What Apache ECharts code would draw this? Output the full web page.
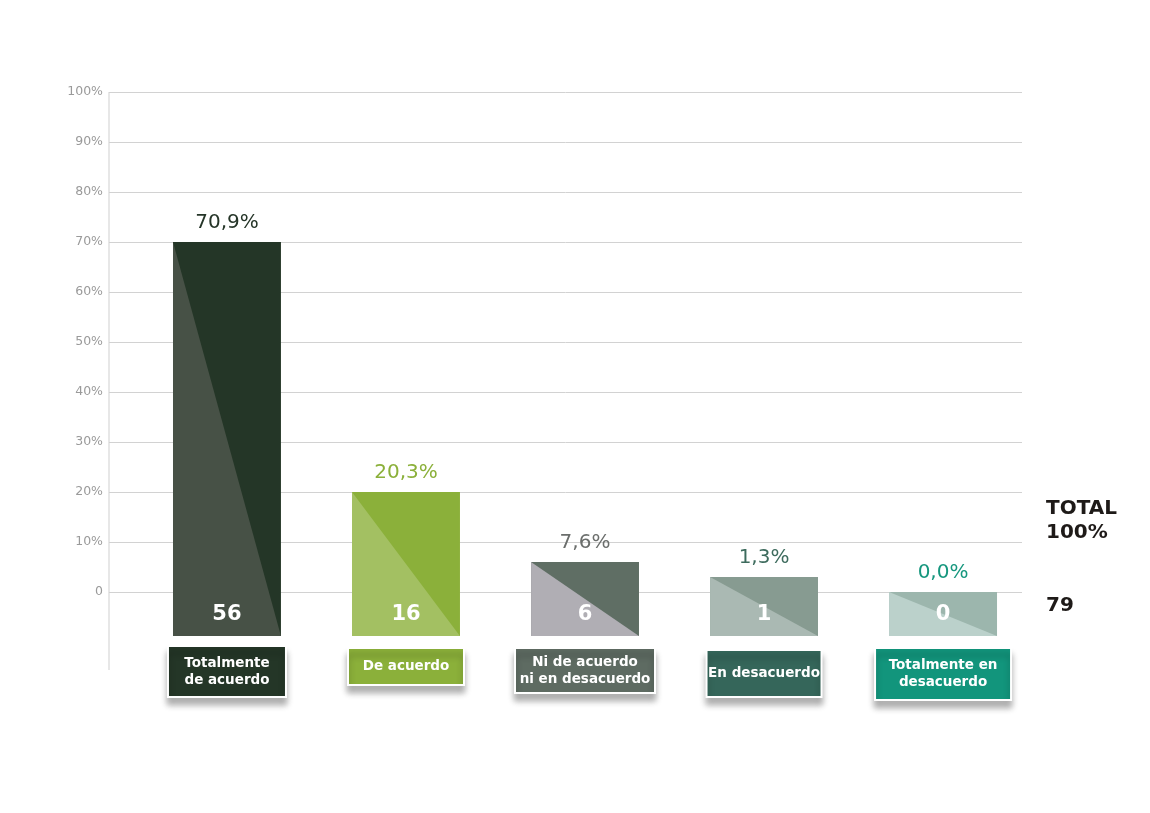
<!DOCTYPE html>
<html>
<head>
<meta charset="utf-8">
<script src="https://cdn.jsdelivr.net/npm/echarts@6/dist/echarts.min.js"></script>
<style>
  html, body { margin: 0; padding: 0; background: #ffffff; }
  #chart { width: 1150px; height: 813px; }
</style>
</head>
<body>
<div id="chart"></div>
<script>
// ---------- DATA ----------
const categories = ['Totalmente\nde acuerdo', 'De acuerdo', 'Ni de acuerdo\nni en desacuerdo', 'En desacuerdo', 'Totalmente en\ndesacuerdo'];
const pctValues = [70.9, 20.3, 7.6, 1.3, 0.0];      // printed percentages
const barTops = [70, 20, 6, 3, 0];                  // drawn bar heights (% axis)
const barFloor = -8.8;                              // bars extend below zero to this value
const counts = [56, 16, 6, 1, 0];
const totalTitle = 'TOTAL';
const totalPct = '100%';
const totalCount = 79;

// ---------- STYLES ----------
const darkColors  = ['#243627', '#8bb03a', '#5f6e64', '#879b91', '#9cb6ad'];
const lightColors = ['#475146', '#a3c062', '#b0aeb4', '#aab9b3', '#bbd1cb'];
const pctColors   = ['#253528', '#8bb03a', '#6b6e6c', '#3d6b5d', '#16977e'];
const boxColors   = ['#243627', '#8bb03a', '#5e6b62', '#35665a', '#12957c'];
const boxLayout = [
  { w: 118, h: 51, gap: 10 },
  { w: 116, h: 37, gap: 12 },
  { w: 140, h: 45, gap: 12 },
  { w: 115, h: 47, gap: 14 },
  { w: 136, h: 52, gap: 12 }
];
const FONT = '"DejaVu Sans", sans-serif';

const chart = echarts.init(document.getElementById('chart'), null, { renderer: 'canvas' });

const seriesData = categories.map((c, i) => [i, barTops[i], pctValues[i], counts[i]]);

const gridColors = [];
for (let v = -20; v <= 100; v += 10) gridColors.push(v < 0 ? 'rgba(0,0,0,0)' : '#d2d2d2');

const option = {
  backgroundColor: '#ffffff',
  animation: false,
  grid: { left: 109, right: 128, top: 92, bottom: 121, containLabel: false },
  xAxis: {
    type: 'value', min: -0.659, max: 4.441, show: false
  },
  yAxis: {
    type: 'value', min: -20, max: 100, interval: 10,
    axisLine: { show: false },
    axisTick: { show: false },
    axisLabel: {
      color: '#9a9a9a', fontSize: 12.5, fontFamily: FONT, margin: 6,
      formatter: v => (v < 0 ? '' : (v === 0 ? '0' : v + '%'))
    },
    splitLine: { show: true, lineStyle: { color: gridColors, width: 1 } }
  },
  series: [{
    type: 'custom',
    clip: false,
    data: seriesData,
    renderItem: function (params, api) {
      const i = api.value(0);
      const topPt = api.coord([i, api.value(1)]);
      const botPt = api.coord([i, barFloor]);
      const w = api.size([1, 0])[0] * 0.603;
      const cx = topPt[0];
      const x0 = cx - w / 2, x1 = cx + w / 2;
      const y0 = topPt[1], y1 = botPt[1];
      const pct = api.value(2);
      const cnt = api.value(3);
      const lay = boxLayout[i];
      const bx = cx - lay.w / 2, by = y1 + lay.gap;
      return {
        type: 'group',
        children: [
          { type: 'rect', shape: { x: x0, y: y0, width: w, height: y1 - y0 }, style: { fill: darkColors[i] } },
          { type: 'polygon', shape: { points: [[x0, y0], [x0, y1], [x1, y1]] }, style: { fill: lightColors[i] } },
          { type: 'text', x: cx, y: y0 - 19, style: {
              text: pct.toFixed(1).replace('.', ',') + '%', fill: pctColors[i],
              font: '20px ' + FONT, align: 'center', verticalAlign: 'middle' } },
          { type: 'text', x: cx, y: y1 - 21, style: {
              text: String(cnt), fill: '#ffffff',
              font: 'bold 21px ' + FONT, align: 'center', verticalAlign: 'middle' } },
          { type: 'rect', shape: { x: bx, y: by, width: lay.w, height: lay.h },
            style: { fill: boxColors[i], stroke: '#ffffff', lineWidth: 2,
                     shadowBlur: 6, shadowOffsetY: 7, shadowColor: 'rgba(0,0,0,0.3)' } },
          { type: 'text', x: cx, y: by + lay.h / 2, style: {
              text: categories[i], fill: '#ffffff', font: 'bold 13.5px ' + FONT,
              lineHeight: 17, align: 'center', verticalAlign: 'middle' } }
        ]
      };
    }
  }]
};
chart.setOption(option);

// axis line and total texts
const axTop = chart.convertToPixel({ yAxisIndex: 0 }, 100);
const axBot = chart.convertToPixel({ yAxisIndex: 0 }, -15.6);
const axX = chart.convertToPixel({ xAxisIndex: 0 }, -0.659);
const rightX = chart.convertToPixel({ xAxisIndex: 0 }, 4.441) + 24;
chart.setOption({
  graphic: [
    { type: 'line', shape: { x1: axX, y1: axTop, x2: axX, y2: axBot }, style: { stroke: '#cfcfcf', lineWidth: 1 }, z: 5 },
    { type: 'text', x: rightX, y: 509, style: { text: totalTitle, fill: '#1e1a18', font: 'bold 20px ' + FONT, verticalAlign: 'middle' } },
    { type: 'text', x: rightX, y: 533, style: { text: totalPct, fill: '#1e1a18', font: 'bold 20px ' + FONT, verticalAlign: 'middle' } },
    { type: 'text', x: rightX, y: 606, style: { text: String(totalCount), fill: '#1e1a18', font: 'bold 20px ' + FONT, verticalAlign: 'middle' } }
  ]
});
</script>
</body>
</html>
